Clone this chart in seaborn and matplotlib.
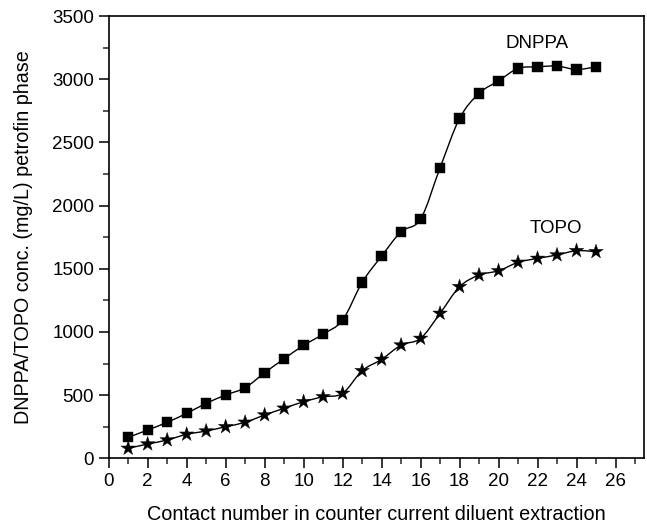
import numpy as np
import pandas as pd
import matplotlib
matplotlib.use("Agg")
import matplotlib.pyplot as plt
from matplotlib.path import Path
from matplotlib.patches import PathPatch
from matplotlib.ticker import MultipleLocator
import seaborn as sns

contacts = list(range(1, 26))
dnppa = [166, 224, 285, 356, 435, 501, 559, 677, 788, 894, 983, 1094, 1392, 1600,
         1793, 1893, 2299, 2690, 2888, 2987, 3085, 3098, 3104, 3077, 3098]
topo = [79, 113, 145, 190, 216, 250, 285, 343, 396, 448, 487, 514, 693, 783,
        896, 949, 1147, 1358, 1450, 1484, 1551, 1582, 1609, 1643, 1635]

x_label = "Contact number in counter current diluent extraction"
y_label = "DNPPA/TOPO conc. (mg/L) petrofin phase"

sns.set_theme(style="ticks")
plt.rcParams["font.family"] = ["Liberation Sans", "DejaVu Sans"]
plt.rcParams["text.color"] = "black"

df = pd.DataFrame({"contact": contacts + contacts,
                   "conc": dnppa + topo,
                   "extractant": ["DNPPA"] * len(contacts) + ["TOPO"] * len(contacts)})

fig = plt.figure(figsize=(6.47, 5.25), dpi=100)
ax = fig.add_axes([0.168, 0.127, 0.827, 0.8425])


def smooth_path(xs, ys):
    """Catmull-Rom curve through the points, expressed as cubic Bezier segments."""
    xs = np.asarray(xs, float)
    ys = np.asarray(ys, float)
    pts = np.column_stack([xs, ys])
    n = len(pts)
    verts = [pts[0]]
    codes = [Path.MOVETO]
    for i in range(n - 1):
        p0 = pts[i - 1] if i > 0 else pts[i]
        p1 = pts[i]
        p2 = pts[i + 1]
        p3 = pts[i + 2] if i + 2 < n else pts[i + 1]
        c1 = p1 + (p2 - p0) / 6.0
        c2 = p2 - (p3 - p1) / 6.0
        verts += [c1, c2, p2]
        codes += [Path.CURVE4] * 3
    return Path(verts, codes)


for name in ["DNPPA", "TOPO"]:
    sub = df[df["extractant"] == name]
    ax.add_patch(PathPatch(smooth_path(sub["contact"], sub["conc"]),
                           facecolor="none", edgecolor="black", lw=1.0, zorder=2))

sns.scatterplot(data=df, x="contact", y="conc", style="extractant",
                markers={"DNPPA": "s", "TOPO": "*"}, hue="extractant",
                palette={"DNPPA": "black", "TOPO": "black"},
                size="extractant", sizes={"DNPPA": 55, "TOPO": 120},
                edgecolor="black", linewidth=0.3, legend=False, ax=ax, zorder=3)

ax.text(22.0, 3286, "DNPPA", ha="center", va="center", fontsize=13.5, color="black")
ax.text(22.95, 1822, "TOPO", ha="center", va="center", fontsize=13.5, color="black")

ax.set_xlim(0, 27.45)
ax.set_ylim(0, 3500)
ax.xaxis.set_major_locator(MultipleLocator(2))
ax.xaxis.set_minor_locator(MultipleLocator(1))
ax.yaxis.set_major_locator(MultipleLocator(500))
ax.yaxis.set_minor_locator(MultipleLocator(250))
ax.tick_params(which="major", length=7, width=1.1, labelsize=13.5, color="black",
               labelcolor="black", top=False, right=False)
ax.tick_params(which="minor", length=4.5, width=1.1, top=False, right=False)
for s in ax.spines.values():
    s.set_linewidth(1.2)
    s.set_color("black")
    s.set_visible(True)

ax.set_xlabel(x_label, fontsize=14.3, color="black", labelpad=11)
ax.set_ylabel(y_label, fontsize=14.2, color="black", labelpad=14)

fig.savefig("out.png", dpi=100)
